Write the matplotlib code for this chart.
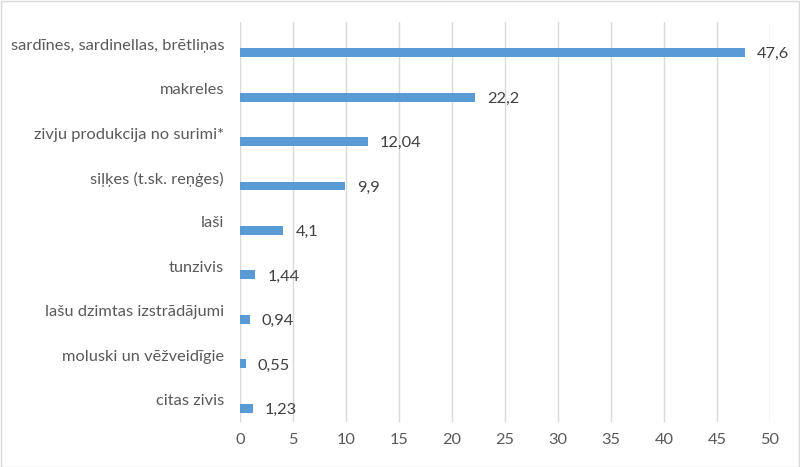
import matplotlib
matplotlib.use("Agg")
import matplotlib.pyplot as plt

categories = ["sardīnes, sardinellas, brētliņas", "makreles", "zivju produkcija no surimi*",
              "siļķes (t.sk. reņģes)", "laši", "tunzivis", "lašu dzimtas izstrādājumi",
              "moluski un vēžveidīgie", "citas zivis"]
values = [47.6, 22.2, 12.04, 9.9, 4.1, 1.44, 0.94, 0.55, 1.23]
value_labels = ["47,6", "22,2", "12,04", "9,9", "4,1", "1,44", "0,94", "0,55", "1,23"]
xticks = [0, 5, 10, 15, 20, 25, 30, 35, 40, 45, 50]

plt.rcParams['font.family'] = ['Lato', 'DejaVu Sans']
fs = 11.8

fig = plt.figure(figsize=(8, 4.67), dpi=100)
ax = fig.add_axes([0.3, 0.0964, 0.6625, 0.8565])

pos = list(range(len(categories)))
bar_pos = [p + 0.19 for p in pos]
ax.barh(bar_pos, values, height=0.2, color="#5B9BD5", zorder=3)

for y, v, lab in zip(bar_pos, values, value_labels):
    ax.annotate(lab, (v, y), xytext=(8.6, -1.2), textcoords="offset points",
                va="center", ha="left", fontsize=fs, color="#404040")

ax.set_xlim(0, 50)
ax.set_ylim(len(categories) - 0.5, -0.5)
ax.set_xticks(xticks)
ax.set_yticks(pos)
ax.set_yticklabels(categories)
ax.tick_params(axis="y", length=0, pad=11.5, labelsize=fs, labelcolor="#595959")
ax.tick_params(axis="x", length=0, pad=8, labelsize=fs, labelcolor="#595959")
ax.grid(axis="x", color="#D9D9D9", linewidth=1, zorder=0)
for s in ax.spines.values():
    s.set_visible(False)

# light frame around the whole chart
fig.patches.append(plt.Rectangle((0.001, 0.001), 0.998, 0.997, transform=fig.transFigure,
                                 fill=False, edgecolor="#D9D9D9", linewidth=1))

plt.savefig("out.png")
